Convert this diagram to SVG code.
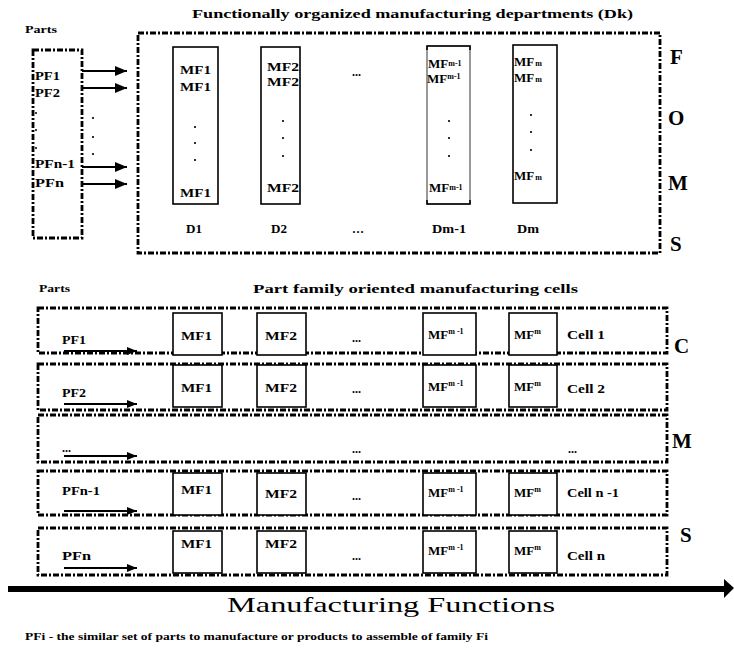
<svg xmlns="http://www.w3.org/2000/svg" width="734" height="657" viewBox="0 0 734 657">
<style>
text{font-family:"Liberation Serif","Times New Roman",serif;font-weight:bold;fill:#000}
.dash{fill:none;stroke:#000;stroke-width:2.8;stroke-dasharray:6 2 2 2}
.col{fill:none;stroke:#000;stroke-width:1.6}
.mf{fill:#fff;stroke:#000;stroke-width:1.6}
.t13{font-size:13px}
.t12{font-size:12px}
.t11{font-size:11px}
.big{font-size:21px}
.sup{font-size:8px}
.ln{stroke:#000;stroke-width:1.6;fill:none}
.arr{stroke:#000;stroke-width:2.2;fill:none}
</style>
<defs>
<marker id="ah" markerWidth="12" markerHeight="10" refX="12" refY="5" orient="auto" markerUnits="userSpaceOnUse"><path d="M0,0 L12,5 L0,10 Z" fill="#000"/></marker>
<marker id="ah2" markerWidth="10" markerHeight="8" refX="10" refY="4" orient="auto" markerUnits="userSpaceOnUse"><path d="M0,0 L10,4 L0,8 Z" fill="#000"/></marker>
</defs>

<!-- FOMS section -->
<text id="t-parts1" class="t11" x="25" y="33" textLength="32" lengthAdjust="spacingAndGlyphs">Parts</text>
<text id="t-title1" class="t12" x="192" y="18" textLength="441" lengthAdjust="spacingAndGlyphs">Functionally organized manufacturing departments (Dk)</text>

<g id="parts-box">
<rect class="dash" x="33" y="50" width="49" height="188"/>
<text class="t13" x="35" y="80" textLength="25" lengthAdjust="spacingAndGlyphs">PF1</text>
<text class="t13" x="35" y="97" textLength="25" lengthAdjust="spacingAndGlyphs">PF2</text>
<text class="t13" x="35" y="168" textLength="40" lengthAdjust="spacingAndGlyphs">PFn-1</text>
<text class="t13" x="35" y="187" textLength="29" lengthAdjust="spacingAndGlyphs">PFn</text>
<circle cx="36" cy="113" r="1"/><circle cx="36" cy="130" r="1"/><circle cx="36" cy="148" r="1"/>
<circle cx="93" cy="118" r="1.1"/><circle cx="93" cy="137" r="1.1"/><circle cx="93" cy="154" r="1.1"/>
</g>

<g id="dept-box">
<rect class="dash" x="138" y="33" width="522" height="220"/>
</g>

<g id="D1">
<rect class="col" x="173" y="47" width="45" height="157"/>
<text class="t13" x="180" y="74" textLength="31" lengthAdjust="spacingAndGlyphs">MF1</text>
<text class="t13" x="180" y="91" textLength="31" lengthAdjust="spacingAndGlyphs">MF1</text>
<circle cx="195" cy="127" r="1.1"/><circle cx="195" cy="143" r="1.1"/><circle cx="195" cy="160" r="1.1"/>
<text class="t13" x="180" y="197" textLength="31" lengthAdjust="spacingAndGlyphs">MF1</text>
<text class="t13" x="186" y="233" textLength="16" lengthAdjust="spacingAndGlyphs">D1</text>
</g>

<g id="D2">
<rect class="col" x="261" y="47" width="39" height="157"/>
<text class="t13" x="267" y="71" textLength="32" lengthAdjust="spacingAndGlyphs">MF2</text>
<text class="t13" x="267" y="86" textLength="32" lengthAdjust="spacingAndGlyphs">MF2</text>
<circle cx="283" cy="121" r="1.1"/><circle cx="283" cy="138" r="1.1"/><circle cx="283" cy="156" r="1.1"/>
<text class="t13" x="267" y="192" textLength="32" lengthAdjust="spacingAndGlyphs">MF2</text>
<text class="t13" x="271" y="233" textLength="16" lengthAdjust="spacingAndGlyphs">D2</text>
</g>

<g id="Dmid">
<text class="t12" x="352" y="76">...</text>
<text class="t12" x="352" y="233">…</text>
</g>

<g id="Dm-1">
<rect x="427" y="46" width="43" height="158" fill="none" stroke="#000" stroke-width="0.8"/>
<path class="ln" d="M427,50 V46 H470 V50 M427,200 V204 H470 V200"/>
<text class="t13" x="428" y="68">MF<tspan class="sup" dy="-2">m-1</tspan></text>
<text class="t13" x="427" y="83">MF<tspan class="sup" dy="-4">m-1</tspan></text>
<circle cx="449" cy="121" r="1.1"/><circle cx="449" cy="138" r="1.1"/><circle cx="449" cy="156" r="1.1"/>
<text class="t13" x="429" y="192">MF<tspan class="sup" dy="-2">m-1</tspan></text>
<text class="t13" x="432" y="233" textLength="34" lengthAdjust="spacingAndGlyphs">Dm-1</text>
</g>

<g id="Dm">
<rect class="col" x="513" y="45" width="44" height="158"/>
<text class="t13" x="514" y="66">MF<tspan class="sup" dx="1">m</tspan></text>
<text class="t13" x="514" y="82">MF<tspan class="sup" dx="1">m</tspan></text>
<circle cx="531" cy="115" r="1.1"/><circle cx="531" cy="132" r="1.1"/><circle cx="531" cy="150" r="1.1"/>
<text class="t13" x="514" y="180">MF<tspan class="sup" dx="1">m</tspan></text>
<text class="t13" x="517" y="233" textLength="22" lengthAdjust="spacingAndGlyphs">Dm</text>
</g>

<g id="FOMS-label">
<text class="big" x="670" y="64">F</text>
<text class="big" x="668" y="125">O</text>
<text class="big" x="668" y="190">M</text>
<text class="big" x="670" y="251">S</text>
</g>

<!-- CMS section -->
<text id="t-parts2" class="t11" x="39" y="292" textLength="31" lengthAdjust="spacingAndGlyphs">Parts</text>
<text id="t-title2" class="t12" x="253" y="293" textLength="325" lengthAdjust="spacingAndGlyphs">Part family oriented manufacturing cells</text>

<g id="cell1">
<rect class="dash" x="38" y="308" width="629" height="45"/>
<rect class="mf" x="173" y="313" width="49" height="42"/>
<rect class="mf" x="257" y="313" width="49" height="42"/>
<rect class="mf" x="423" y="313" width="53" height="42"/>
<rect class="mf" x="509" y="313" width="48" height="42"/>
<text class="t13" x="62" y="344" textLength="24" lengthAdjust="spacingAndGlyphs">PF1</text>
<text class="t13" x="181" y="340" textLength="31" lengthAdjust="spacingAndGlyphs">MF1</text>
<text class="t13" x="265" y="340" textLength="32" lengthAdjust="spacingAndGlyphs">MF2</text>
<text class="t12" x="352" y="342">...</text>
<text class="t13" x="428" y="339">MF<tspan class="sup" dy="-5">m -1</tspan></text>
<text class="t13" x="514" y="339">MF<tspan class="sup" dy="-5">m</tspan></text>
<text class="t12" x="567" y="339" textLength="38" lengthAdjust="spacingAndGlyphs">Cell 1</text>
</g>

<g id="cell2">
<rect class="dash" x="38" y="364" width="629" height="46"/>
<rect class="mf" x="173" y="365" width="49" height="42"/>
<rect class="mf" x="257" y="365" width="49" height="42"/>
<rect class="mf" x="423" y="365" width="53" height="42"/>
<rect class="mf" x="509" y="365" width="48" height="42"/>
<text class="t13" x="62" y="397" textLength="24" lengthAdjust="spacingAndGlyphs">PF2</text>
<text class="t13" x="181" y="392" textLength="31" lengthAdjust="spacingAndGlyphs">MF1</text>
<text class="t13" x="265" y="392" textLength="32" lengthAdjust="spacingAndGlyphs">MF2</text>
<text class="t12" x="352" y="393">...</text>
<text class="t13" x="428" y="391">MF<tspan class="sup" dy="-5">m -1</tspan></text>
<text class="t13" x="514" y="391">MF<tspan class="sup" dy="-5">m</tspan></text>
<text class="t12" x="567" y="393" textLength="38" lengthAdjust="spacingAndGlyphs">Cell 2</text>
</g>

<g id="cell-mid">
<rect class="dash" x="38" y="415" width="629" height="47"/>
<text class="t12" x="62" y="452">...</text>
<text class="t12" x="352" y="453">...</text>
<text class="t12" x="568" y="453">...</text>
</g>

<g id="cell-n-1">
<rect class="dash" x="38" y="471" width="629" height="44"/>
<rect class="mf" x="173" y="473" width="49" height="42"/>
<rect class="mf" x="257" y="473" width="49" height="42"/>
<rect class="mf" x="423" y="473" width="53" height="42"/>
<rect class="mf" x="509" y="473" width="48" height="42"/>
<text class="t13" x="62" y="495" textLength="38" lengthAdjust="spacingAndGlyphs">PFn-1</text>
<text class="t13" x="181" y="494" textLength="31" lengthAdjust="spacingAndGlyphs">MF1</text>
<text class="t13" x="265" y="498" textLength="32" lengthAdjust="spacingAndGlyphs">MF2</text>
<text class="t12" x="352" y="500">...</text>
<text class="t13" x="428" y="497">MF<tspan class="sup" dy="-5">m -1</tspan></text>
<text class="t13" x="514" y="497">MF<tspan class="sup" dy="-5">m</tspan></text>
<text class="t12" x="567" y="497" textLength="52" lengthAdjust="spacingAndGlyphs">Cell n -1</text>
</g>

<g id="cell-n">
<rect class="dash" x="38" y="528" width="629" height="47"/>
<rect class="mf" x="173" y="531" width="49" height="42"/>
<rect class="mf" x="257" y="531" width="49" height="42"/>
<rect class="mf" x="423" y="531" width="53" height="42"/>
<rect class="mf" x="509" y="531" width="48" height="42"/>
<text class="t13" x="62" y="560" textLength="29" lengthAdjust="spacingAndGlyphs">PFn</text>
<text class="t13" x="181" y="548" textLength="31" lengthAdjust="spacingAndGlyphs">MF1</text>
<text class="t13" x="265" y="548" textLength="32" lengthAdjust="spacingAndGlyphs">MF2</text>
<text class="t12" x="352" y="560">...</text>
<text class="t13" x="428" y="555">MF<tspan class="sup" dy="-5">m -1</tspan></text>
<text class="t13" x="514" y="555">MF<tspan class="sup" dy="-5">m</tspan></text>
<text class="t12" x="567" y="560" textLength="38" lengthAdjust="spacingAndGlyphs">Cell n</text>
</g>

<g id="CMS-label">
<text class="big" x="674" y="353">C</text>
<text class="big" x="672" y="448">M</text>
<text class="big" x="680" y="542">S</text>
</g>

<g id="connectors">
<line class="arr" x1="82" y1="71" x2="127" y2="71" marker-end="url(#ah)"/>
<line class="arr" x1="82" y1="88" x2="127" y2="88" marker-end="url(#ah)"/>
<line class="arr" x1="82" y1="167" x2="127" y2="167" marker-end="url(#ah)"/>
<line class="arr" x1="82" y1="184" x2="127" y2="184" marker-end="url(#ah)"/>
<line class="arr" x1="64" y1="351" x2="137" y2="351" marker-end="url(#ah2)"/>
<line class="arr" x1="64" y1="404" x2="137" y2="404" marker-end="url(#ah2)"/>
<line class="arr" x1="64" y1="456" x2="137" y2="456" marker-end="url(#ah2)"/>
<line class="arr" x1="64" y1="511" x2="137" y2="511" marker-end="url(#ah2)"/>
<line class="arr" x1="64" y1="568" x2="137" y2="568" marker-end="url(#ah2)"/>
</g>

<g id="axis">
<line x1="8" y1="589" x2="726" y2="589" stroke="#000" stroke-width="6"/>
<path d="M724,579 L734,588 L724,598 Z" fill="#000"/>
<text x="227" y="612" style="font-weight:normal;font-size:22px" textLength="328" lengthAdjust="spacingAndGlyphs">Manufacturing Functions</text>
</g>

<text id="footnote" class="t11" x="25" y="640" textLength="463" lengthAdjust="spacingAndGlyphs">PFi - the similar set of parts to manufacture or products to assemble of family Fi</text>
</svg>
